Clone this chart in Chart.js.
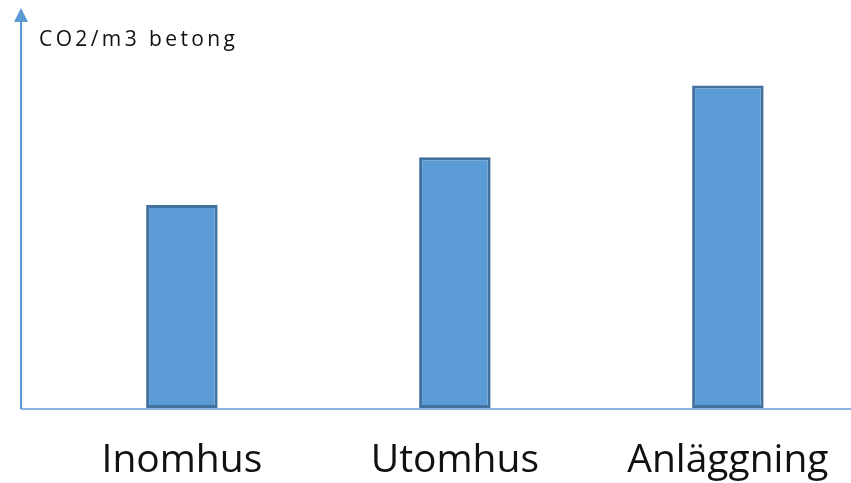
<!DOCTYPE html>
<html>
<head>
<meta charset="utf-8">
<script src="https://cdn.jsdelivr.net/npm/chart.js@4"></script>
<style>
  html, body { margin: 0; padding: 0; background: #fff; overflow: hidden; }
  #wrap { width: 851px; height: 483px; position: relative; }
</style>
</head>
<body>
<div id="wrap"><canvas id="chart"></canvas></div>
<script>
'use strict';

const CATEGORIES = ['Inomhus', 'Utomhus', 'Anläggning'];
const VALUES = [51, 63, 81];
const AXIS_TITLE = 'CO2/m3 betong';

// y-axis arrow, x-axis line and axis title, drawn around the chart area
const axesPlugin = {
  id: 'axes',
  afterDatasetsDraw(chart) {
    const { ctx, chartArea: a } = chart;
    const x0 = a.left + 1;
    ctx.save();
    // x axis
    ctx.strokeStyle = '#8db3e2';
    ctx.lineWidth = 2;
    ctx.beginPath();
    ctx.moveTo(x0, a.bottom + 1);
    ctx.lineTo(chart.width, a.bottom + 1);
    ctx.stroke();
    // y axis
    ctx.strokeStyle = '#5b9bd5';
    ctx.beginPath();
    ctx.moveTo(x0, a.bottom + 1);
    ctx.lineTo(x0, a.top + 10);
    ctx.stroke();
    ctx.fillStyle = '#5b9bd5';
    ctx.beginPath();
    ctx.moveTo(x0, a.top - 2);
    ctx.lineTo(x0 - 7, a.top + 12);
    ctx.lineTo(x0 + 7, a.top + 12);
    ctx.closePath();
    ctx.fill();
    // title
    ctx.fillStyle = '#111';
    ctx.font = '21px "Open Sans"';
    ctx.letterSpacing = '3.4px';
    ctx.textBaseline = 'alphabetic';
    ctx.fillText(AXIS_TITLE, 39, 46);
    ctx.restore();
  }
};

new Chart(document.getElementById('chart'), {
  type: 'bar',
  data: {
    datasets: [{
      data: CATEGORIES.map((c, i) => ({ x: i, y: VALUES[i] })),
      backgroundColor: '#5b9bd5',
      borderColor: '#41719c',
      borderWidth: 3,
      borderSkipped: false,
      categoryPercentage: 1,
      barPercentage: 0.262
    }]
  },
  options: {
    responsive: true,
    maintainAspectRatio: false,
    animation: false,
    layout: { padding: { left: 20, top: 10, right: 0, bottom: 0 } },
    plugins: { legend: { display: false }, tooltip: { enabled: false } },
    scales: {
      x: {
        type: 'linear',
        offset: false,
        min: -0.593,
        max: 2.451,
        grid: { display: false, drawTicks: false },
        border: { display: false },
        afterBuildTicks: axis => { axis.ticks = CATEGORIES.map((c, i) => ({ value: i })); },
        afterFit: scale => {
          scale.height = 75;
          scale.paddingLeft = 0;
          scale.paddingRight = 0;
        },
        ticks: {
          autoSkip: false,
          maxRotation: 0,
          padding: 29,
          color: '#111',
          font: { family: 'Open Sans', size: 39 },
          callback: v => CATEGORIES[v]
        }
      },
      y: { display: false, min: 0, max: 100 }
    }
  },
  plugins: [axesPlugin]
});
</script>
</body>
</html>
